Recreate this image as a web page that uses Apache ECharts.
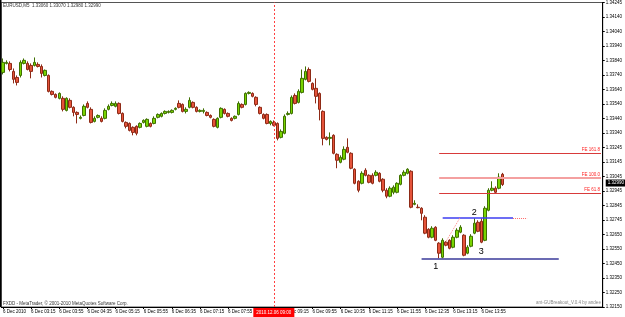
<!DOCTYPE html>
<html>
<head>
<meta charset="utf-8">
<title>EURUSD,M5</title>
<script src="https://cdn.jsdelivr.net/npm/echarts@6/dist/echarts.min.js"></script>
<style>
	html,body{margin:0;padding:0;background:#fff;}
	#main{width:625px;height:317px;}
</style>
</head>
<body>
<div id="main"></div>
<script>
	// [open, close, low, high], M5 bars from 6 Dec 02:35
	var candles = [
		[1.33763,1.33832,1.33749,1.33859],[1.33825,1.33832,1.33818,1.33846],[1.33825,1.33783,1.33770,1.33839],
		[1.33770,1.33715,1.33687,1.33790],[1.33728,1.33694,1.33673,1.33742],[1.33742,1.33832,1.33728,1.33846],
		[1.33825,1.33846,1.33818,1.33859],[1.33825,1.33783,1.33777,1.33839],[1.33811,1.33770,1.33722,1.33825],
		[1.33811,1.33832,1.33804,1.33866],[1.33818,1.33804,1.33797,1.33832],[1.33804,1.33756,1.33728,1.33818],
		[1.33742,1.33777,1.33735,1.33783],[1.33742,1.33632,1.33625,1.33749],[1.33632,1.33611,1.33604,1.33639],
		[1.33611,1.33591,1.33584,1.33618],[1.33584,1.33618,1.33577,1.33625],[1.33584,1.33508,1.33494,1.33598],
		[1.33501,1.33584,1.33494,1.33591],[1.33570,1.33522,1.33515,1.33584],[1.33522,1.33487,1.33460,1.33529],
		[1.33487,1.33473,1.33411,1.33494],[1.33446,1.33453,1.33439,1.33466],[1.33466,1.33529,1.33460,1.33542],
		[1.33549,1.33522,1.33515,1.33563],[1.33508,1.33418,1.33411,1.33522],[1.33425,1.33446,1.33418,1.33460],
		[1.33453,1.33466,1.33446,1.33473],[1.33446,1.33425,1.33418,1.33460],[1.33446,1.33501,1.33439,1.33515],
		[1.33508,1.33529,1.33501,1.33542],[1.33535,1.33549,1.33529,1.33563],[1.33529,1.33549,1.33522,1.33563],
		[1.33549,1.33480,1.33473,1.33556],[1.33480,1.33425,1.33418,1.33487],[1.33418,1.33391,1.33377,1.33425],
		[1.33411,1.33363,1.33356,1.33418],[1.33384,1.33349,1.33329,1.33391],[1.33391,1.33343,1.33329,1.33398],
		[1.33384,1.33411,1.33377,1.33418],[1.33418,1.33432,1.33411,1.33439],[1.33391,1.33439,1.33384,1.33446],
		[1.33411,1.33391,1.33384,1.33418],[1.33411,1.33446,1.33405,1.33460],[1.33453,1.33473,1.33446,1.33480],
		[1.33460,1.33480,1.33453,1.33487],[1.33480,1.33494,1.33473,1.33501],[1.33487,1.33494,1.33480,1.33501],
		[1.33487,1.33501,1.33480,1.33508],[1.33508,1.33515,1.33501,1.33522],[1.33549,1.33522,1.33515,1.33570],
		[1.33542,1.33494,1.33487,1.33549],[1.33494,1.33508,1.33480,1.33522],[1.33522,1.33570,1.33515,1.33591],
		[1.33556,1.33522,1.33515,1.33563],[1.33522,1.33494,1.33487,1.33529],[1.33494,1.33501,1.33487,1.33508],
		[1.33494,1.33501,1.33480,1.33515],[1.33487,1.33466,1.33460,1.33494],[1.33466,1.33453,1.33446,1.33473],
		[1.33439,1.33391,1.33384,1.33446],[1.33384,1.33446,1.33377,1.33453],[1.33453,1.33515,1.33446,1.33522],
		[1.33508,1.33480,1.33473,1.33515],[1.33480,1.33460,1.33453,1.33487],[1.33446,1.33432,1.33425,1.33453],
		[1.33446,1.33460,1.33439,1.33466],[1.33473,1.33549,1.33466,1.33563],[1.33542,1.33522,1.33515,1.33549],
		[1.33542,1.33618,1.33535,1.33625],[1.33618,1.33625,1.33611,1.33632],[1.33618,1.33598,1.33591,1.33625],
		[1.33591,1.33542,1.33529,1.33598],[1.33522,1.33480,1.33473,1.33529],[1.33473,1.33446,1.33439,1.33480],
		[1.33473,1.33411,1.33405,1.33480],[1.33411,1.33425,1.33398,1.33432],[1.33418,1.33398,1.33391,1.33432],
		[1.33411,1.33308,1.33294,1.33418],[1.33315,1.33356,1.33308,1.33370],[1.33343,1.33460,1.33336,1.33473],
		[1.33473,1.33480,1.33466,1.33494],[1.33480,1.33591,1.33473,1.33604],[1.33604,1.33549,1.33542,1.33618],
		[1.33556,1.33632,1.33549,1.33646],[1.33625,1.33722,1.33618,1.33783],[1.33715,1.33770,1.33708,1.33804],
		[1.33783,1.33701,1.33694,1.33797],[1.33687,1.33646,1.33639,1.33694],[1.33653,1.33598,1.33549,1.33722],
		[1.33618,1.33508,1.33432,1.33625],[1.33494,1.33308,1.33260,1.33501],[1.33315,1.33301,1.33294,1.33322],
		[1.33308,1.33315,1.33260,1.33349],[1.33329,1.33205,1.33198,1.33336],[1.33198,1.33157,1.33102,1.33205],
		[1.33143,1.33177,1.33136,1.33191],[1.33164,1.33232,1.33157,1.33253],[1.33246,1.33212,1.33205,1.33308],
		[1.33205,1.33102,1.33095,1.33212],[1.33095,1.32998,1.32991,1.33102],[1.33012,1.32950,1.32936,1.33019],
		[1.32998,1.33067,1.32991,1.33081],[1.33088,1.33053,1.33046,1.33102],[1.33053,1.33005,1.32998,1.33060],
		[1.33053,1.32998,1.32991,1.33067],[1.33053,1.33074,1.33046,1.33088],[1.33067,1.33012,1.33005,1.33074],
		[1.33026,1.32950,1.32936,1.33033],[1.32950,1.32909,1.32895,1.32964],[1.32909,1.32964,1.32902,1.32977],
		[1.32936,1.32971,1.32922,1.32984],[1.32936,1.32998,1.32929,1.33005],[1.32991,1.33053,1.32984,1.33060],
		[1.33053,1.33074,1.33046,1.33088],[1.33067,1.33095,1.33060,1.33102],[1.33081,1.32833,1.32826,1.33088],
		[1.32853,1.32860,1.32847,1.32881],[1.32833,1.32830,1.32826,1.32853],[1.32826,1.32791,1.32743,1.32833],
		[1.32764,1.32654,1.32647,1.32778],[1.32681,1.32626,1.32619,1.32688],[1.32626,1.32688,1.32619,1.32702],
		[1.32695,1.32605,1.32599,1.32702],[1.32585,1.32516,1.32481,1.32592],[1.32488,1.32605,1.32481,1.32619],
		[1.32592,1.32571,1.32564,1.32599],[1.32605,1.32550,1.32543,1.32612],[1.32557,1.32626,1.32550,1.32640],
		[1.32626,1.32674,1.32619,1.32688],[1.32661,1.32695,1.32654,1.32709],[1.32640,1.32502,1.32495,1.32647],
		[1.32516,1.32557,1.32509,1.32571],[1.32564,1.32633,1.32557,1.32647],[1.32654,1.32723,1.32647,1.32757],
		[1.32729,1.32667,1.32661,1.32743],[1.32736,1.32592,1.32585,1.32757],[1.32605,1.32826,1.32599,1.32840],
		[1.32812,1.32950,1.32805,1.32964],[1.32950,1.32964,1.32943,1.33012],[1.32964,1.32936,1.32929,1.32977],
		[1.32964,1.33040,1.32957,1.33067],[1.33060,1.32990,1.32980,1.33070]
	];

	var priceTicks = ['1.32150','1.32250','1.32350','1.32450','1.32550','1.32650','1.32745','1.32845',
		'1.32945','1.33045','1.33145','1.33245','1.33340','1.33440','1.33540','1.33640','1.33740',
		'1.33840','1.33940','1.34040','1.34140','1.34245'];
	var timeTicks = ['6 Dec 2010','6 Dec 03:15','6 Dec 03:55','6 Dec 04:35','6 Dec 05:15','6 Dec 05:55',
		'6 Dec 06:35','6 Dec 07:15','6 Dec 07:55','6 Dec 08:35','6 Dec 09:15','6 Dec 09:55','6 Dec 10:35',
		'6 Dec 11:15','6 Dec 11:55','6 Dec 12:35','6 Dec 13:15','6 Dec 13:55'];

	var fibLevels = [1.32931, 1.33035, 1.33203];
	var fibNames = ['FE 61.8', 'FE 100.0', 'FE 161.8'];
	var breakoutLevel = 1.32760;
	var supportLevel = 1.32477;
	var swingLine = [[126, 1.32599], [130, 1.32764]];
	var waveLabels = [['1', 123, 1.32421], ['2', 134, 1.32794], ['3', 136, 1.32525]];
	var cursorBar = 77;
	var lastPrice = 1.32990;

	var categories = [];
	for (var i = 0; i < 171; i++) {
		var m = 2 * 60 + 35 + i * 5;
		var hh = Math.floor(m / 60), mm = m % 60;
		categories.push((hh < 10 ? '0' : '') + hh + ':' + (mm < 10 ? '0' : '') + mm);
	}
	var lastIndex = categories.length - 1;
	var font = 'Liberation Sans';

	function labelBar(index) {
		return index % 8 === 0 && index / 8 < timeTicks.length;
	}

	var lines = [];
	fibLevels.forEach(function(level, k) {
		lines.push([
			{coord: [124, level], name: fibNames[k],
				lineStyle: k === 1 ? {color: '#f4a0a0', width: 2, type: 'solid'} : {color: '#d83a3a', width: 1, type: 'solid'}},
			{coord: [lastIndex, level]}
		]);
	});
	lines.push([{coord: [125, breakoutLevel], lineStyle: {color: '#3c3cf0', width: 1.5, type: 'solid'}, label: {show: false}},
		{coord: [145, breakoutLevel]}]);
	lines.push([{coord: [145, breakoutLevel], lineStyle: {color: '#ff6a6a', width: 1, type: 'dotted'}, label: {show: false}},
		{coord: [149, breakoutLevel]}]);
	lines.push([{coord: [119, supportLevel], lineStyle: {color: '#3a3a9a', width: 1.5, type: 'solid'}, label: {show: false}},
		{coord: [158, supportLevel]}]);
	lines.push([{coord: swingLine[0], lineStyle: {color: '#ff8a8a', width: 1, type: 'dotted'}, label: {show: false}},
		{coord: swingLine[1]}]);
	lines.push({xAxis: cursorBar, lineStyle: {color: '#ff4040', width: 1, type: [2, 2]},
		label: {show: true, position: 'start', distance: 1, formatter: '2010.12.06 09:00',
			color: '#fff', backgroundColor: '#ff0000', padding: [2, 3], fontSize: 4.5, fontFamily: font}});
	lines.push({yAxis: lastPrice, lineStyle: {color: 'rgba(0,0,0,0)', width: 0},
		label: {show: true, position: 'end', distance: 3, formatter: '1.32990',
			color: '#fff', backgroundColor: '#000', padding: [1, 2], fontSize: 4.5, fontFamily: font}});

	var chart = echarts.init(document.getElementById('main'), null, {renderer: 'canvas'});
	chart.setOption({
		animation: false,
		backgroundColor: '#fff',
		grid: {left: 0, right: 17, top: 2, bottom: 10, show: true, borderColor: '#555', borderWidth: 1},
		xAxis: {
			type: 'category',
			data: categories,
			boundaryGap: true,
			axisLine: {lineStyle: {color: '#000'}},
			axisTick: {show: true, interval: labelBar, alignWithLabel: true, length: 2, lineStyle: {color: '#000'}},
			axisLabel: {
				interval: labelBar, align: 'left', margin: 2, fontSize: 4.5, fontFamily: font, color: '#000',
				formatter: function(v, index) { return timeTicks[index / 8] || ''; }
			},
			splitLine: {show: false}
		},
		yAxis: {
			type: 'value',
			position: 'right',
			min: 1.32145,
			max: 1.34245,
			interval: 0.001,
			axisLine: {show: true, lineStyle: {color: '#000'}},
			axisTick: {show: true, length: 2, lineStyle: {color: '#000'}},
			axisLabel: {
				margin: 3, fontSize: 4.5, fontFamily: font, color: '#000',
				formatter: function(v) { return priceTicks[Math.round((v - 1.32145) / 0.001)] || ''; }
			},
			splitLine: {show: false}
		},
		series: [{
			type: 'candlestick',
			data: candles,
			barWidth: 3,
			itemStyle: {
				color: '#78d400', color0: '#e5533a',
				borderColor: '#3f7000', borderColor0: '#8e2a16', borderWidth: 1
			},
			markLine: {
				silent: true,
				symbol: 'none',
				animation: false,
				label: {
					show: true, position: 'insideEndTop', distance: 1, formatter: '{b}',
					color: '#ff2020', fontSize: 4.5, fontFamily: font
				},
				data: lines
			},
			markPoint: {
				silent: true,
				symbol: 'rect',
				symbolSize: 1,
				itemStyle: {color: 'rgba(0,0,0,0)'},
				label: {show: true, position: 'inside', color: '#000', fontSize: 9, fontFamily: font},
				data: waveLabels.map(function(w) {
					return {coord: [w[1], w[2]], value: w[0], label: {formatter: w[0]}};
				})
			}
		}],
		graphic: [
			{type: 'line', shape: {x1: 0.5, y1: 0, x2: 0.5, y2: 307}, style: {stroke: '#000', lineWidth: 2}},
			{type: 'text', left: 3, top: 3, style: {text: 'EURUSD,M5  1.33060 1.33070 1.32980 1.32990',
				fill: '#333', font: '4.5px "Liberation Sans"'}},
			{type: 'text', left: 3, top: 301, style: {text: 'FXDD - MetaTrader, \u00a9 2001-2010 MetaQuotes Software Corp.',
				fill: '#333', font: '4.5px "Liberation Sans"'}},
			{type: 'text', left: 536, top: 300, style: {text: 'ant-GUBreakout_V.0.4 by andee',
				fill: '#888', font: '4.5px "Liberation Sans"'}}
		]
	});
</script>
</body>
</html>
